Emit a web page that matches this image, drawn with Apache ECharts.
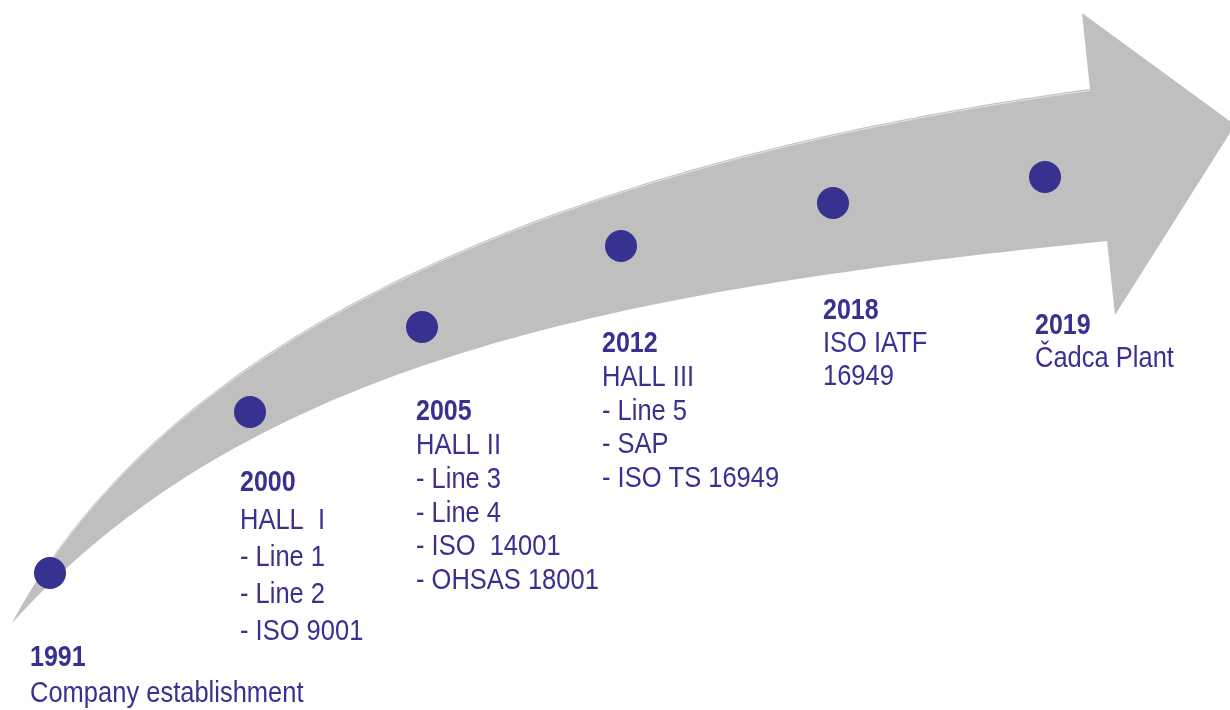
<!DOCTYPE html>
<html>
<head>
<meta charset="utf-8">
<script src="https://cdn.jsdelivr.net/npm/echarts@6/dist/echarts.min.js"></script>
<style>
  html, body { margin: 0; padding: 0; background: #ffffff; }
  #chart { width: 1230px; height: 710px; }
</style>
</head>
<body>
<div id="chart"></div>
<script>
// ---- data ----
const years = ['1991', '2000', '2005', '2012', '2018', '2019'];
const milestones = [
  ['Company establishment'],
  ['HALL  I', '- Line 1', '- Line 2', '- ISO 9001'],
  ['HALL II', '- Line 3', '- Line 4', '- ISO  14001', '- OHSAS 18001'],
  ['HALL III', '- Line 5', '- SAP', '- ISO TS 16949'],
  ['ISO IATF', '16949'],
  ['Čadca Plant']
];
// position of each milestone dot along the timeline arrow (chart units)
const dotX = [50, 250, 422, 621, 833, 1045];
const dotY = [573, 412, 327, 246, 203, 177];

// ---- decoration geometry (arrow outline as cubic Bezier control points, chart units) ----
const arrowUpperCurve = [[12, 623], [185, 298], [640, 150], [1090, 89]];
const arrowHead = [[1082, 13], [1235, 125], [1115, 315]];
const arrowLowerCurve = [[1107, 241], [620, 290], [250, 360], [12, 623]];

// ---- label layout (pixel offsets from dot, line spacing) ----
const labelOffset = [[-20, 85], [-10, 71], [-6, 85], [-19, 98], [-10, 108], [-10, 149]];
const lineGap = [36, 37.3, 33.8, 33.7, 33, 32.5];

const INK = '#37318f';
const FONT = '"Liberation Sans", Arial, sans-serif';
const STRETCH = 1.18;

function bezier(c, steps) {
  const out = [];
  for (let s = 0; s <= steps; s++) {
    const t = s / steps, u = 1 - t;
    const a = u * u * u, b = 3 * u * u * t, d = 3 * u * t * t, e = t * t * t;
    out.push([a * c[0][0] + b * c[1][0] + d * c[2][0] + e * c[3][0],
              a * c[0][1] + b * c[1][1] + d * c[2][1] + e * c[3][1]]);
  }
  return out;
}

const chart = echarts.init(document.getElementById('chart'), null, { renderer: 'canvas' });

const option = {
  backgroundColor: '#ffffff',
  animation: false,
  grid: { left: 0, right: 0, top: 0, bottom: 0 },
  xAxis: { type: 'value', min: 0, max: 1230, show: false },
  yAxis: { type: 'value', min: 0, max: 710, inverse: true, show: false },
  series: [
    {
      type: 'custom',
      silent: true,
      z: 1,
      clip: false,
      data: [[0, 0]],
      renderItem: function (params, api) {
        const upper = bezier(arrowUpperCurve, 100);
        const outline = upper.concat(arrowHead, bezier(arrowLowerCurve, 100));
        const pts = outline.map(p => api.coord(p));
        const hl = upper.slice(5).map(p => api.coord([p[0], p[1] + 1.5]));
        return {
          type: 'group',
          children: [
            { type: 'polygon', shape: { points: pts }, style: { fill: '#bfbfbf', stroke: null } },
            { type: 'polyline', shape: { points: hl }, style: { stroke: '#e6e6e6', lineWidth: 1, fill: null } }
          ]
        };
      }
    },
    {
      type: 'scatter',
      silent: true,
      z: 3,
      symbol: 'circle',
      symbolSize: 32,
      itemStyle: { color: INK, opacity: 1 },
      data: dotX.map((x, i) => [x, dotY[i]])
    },
    {
      type: 'custom',
      silent: true,
      z: 4,
      clip: false,
      data: dotX.map((x, i) => [x, dotY[i]]),
      renderItem: function (params, api) {
        const i = params.dataIndex;
        const c = api.coord([api.value(0), api.value(1)]);
        const x0 = c[0] + labelOffset[i][0];
        const y0 = c[1] + labelOffset[i][1];
        const children = [{
          type: 'text', x: x0, y: y0, scaleY: STRETCH,
          style: { text: years[i], x: 0, y: 0, fill: INK, fontFamily: FONT, fontSize: 25, fontWeight: 'bold', align: 'left', verticalAlign: 'middle' }
        }];
        milestones[i].forEach((line, k) => {
          children.push({
            type: 'text', x: x0, y: y0 + (k + 1) * lineGap[i], scaleY: STRETCH,
            style: { text: line, x: 0, y: 0, fill: INK, fontFamily: FONT, fontSize: 25.5, fontWeight: 'normal', align: 'left', verticalAlign: 'middle' }
          });
        });
        return { type: 'group', children: children };
      }
    }
  ]
};
chart.setOption(option);
</script>
</body>
</html>
